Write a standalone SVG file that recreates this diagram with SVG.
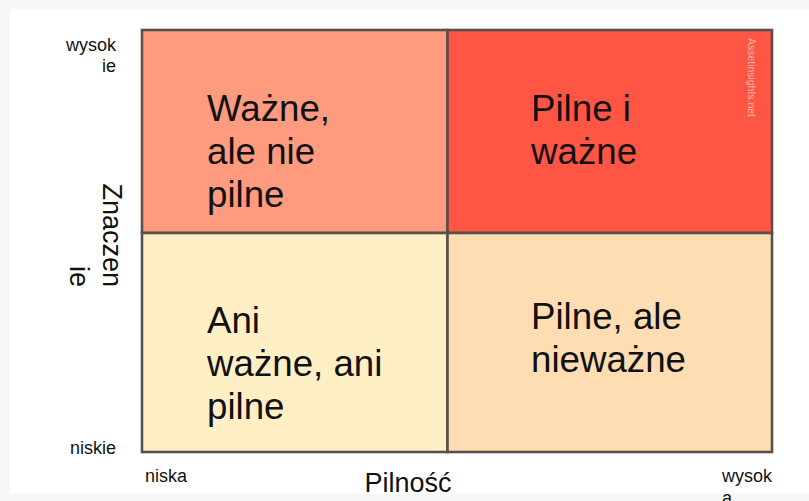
<svg xmlns="http://www.w3.org/2000/svg" width="809" height="501" viewBox="0 0 809 501">
<style>
.t{font-family:"Liberation Sans",Arial,sans-serif;fill:#111}
.big{font-size:36.7px}
.ax{font-size:27px}
.sm{font-size:18px}
.cell{stroke:#58504a;stroke-width:2.6}
</style>
<rect x="0" y="0" width="809" height="501" fill="#f6f6f6"/>
<rect x="10" y="9" width="799" height="485" fill="#ffffff"/>
<g id="q-tl">
<rect class="cell" x="142" y="30" width="305.5" height="203" fill="#fe9a7e"/>
<text class="t big" x="207"><tspan x="207" y="121">Ważne,</tspan><tspan x="207" y="164">ale nie</tspan><tspan x="207" y="207">pilne</tspan></text>
</g>
<g id="q-tr">
<rect class="cell" x="447.5" y="30" width="324.5" height="203" fill="#ff5545"/>
<text class="t big"><tspan x="531" y="121">Pilne i</tspan><tspan x="531" y="164">ważne</tspan></text>
<text transform="translate(748,38) rotate(90)" font-family="'Liberation Sans Narrow','Liberation Sans',Arial,sans-serif" font-size="10.5" fill="#f8b3a4" textLength="79" lengthAdjust="spacingAndGlyphs">Assetinsights.net</text>
</g>
<g id="q-bl">
<rect class="cell" x="142" y="233" width="305.5" height="219" fill="#ffefc4"/>
<text class="t big"><tspan x="207" y="333">Ani</tspan><tspan x="207" y="376">ważne, ani</tspan><tspan x="207" y="419">pilne</tspan></text>
</g>
<g id="q-br">
<rect class="cell" x="447.5" y="233" width="324.5" height="219" fill="#ffddb3"/>
<text class="t big"><tspan x="531" y="329">Pilne, ale</tspan><tspan x="531" y="372">nieważne</tspan></text>
</g>
<g id="axes">
<text class="t sm" text-anchor="end"><tspan x="116" y="51">wysok</tspan><tspan x="116" y="72">ie</tspan></text>
<text class="t sm" x="116" y="454" text-anchor="end">niskie</text>
<text class="t sm" x="145" y="482">niska</text>
<text class="t sm"><tspan x="722" y="482">wysok</tspan><tspan x="722" y="504">a</tspan></text>
<text class="t ax" x="408" y="492" text-anchor="middle">Pilność</text>
<text class="t ax" transform="translate(103,287) rotate(90)" text-anchor="end"><tspan x="0" y="0">Znaczen</tspan><tspan x="0" y="33">ie</tspan></text>
</g>
</svg>
